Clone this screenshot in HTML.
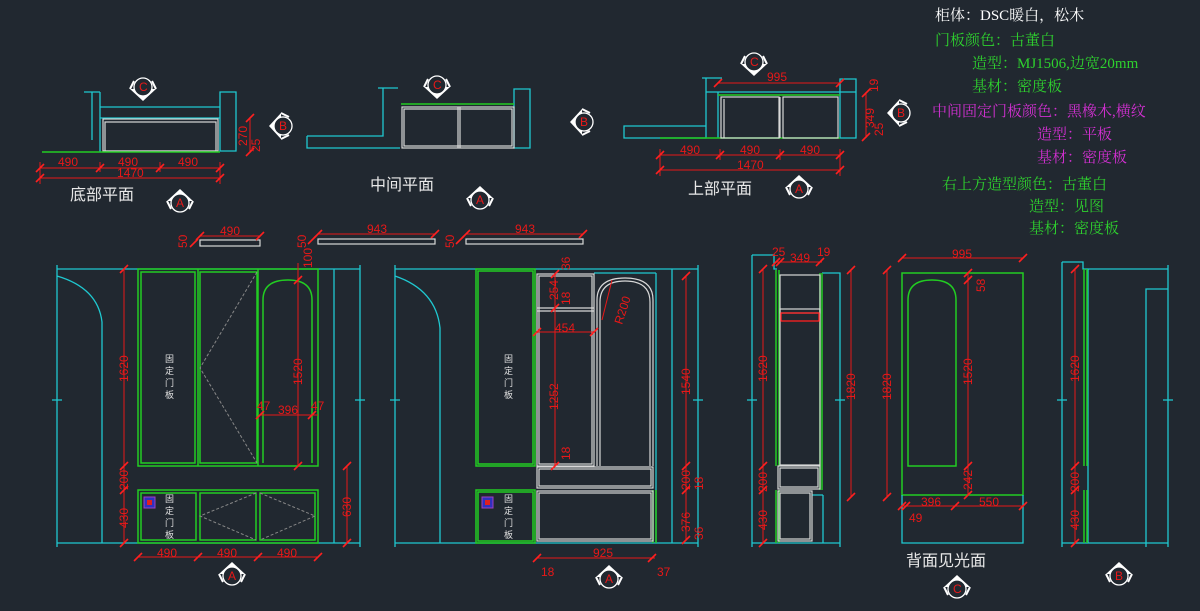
<!DOCTYPE html>
<html><head><meta charset="utf-8"><style>
html,body{margin:0;padding:0;background:#212830;}
svg{display:block}
text{font-family:"Liberation Sans","Noto Sans CJK SC",sans-serif;}
.n{font-family:"Liberation Serif","Noto Serif CJK SC",serif;font-size:15px}
.c{stroke:#1fc8d0;fill:none;stroke-width:1.3}
.g{stroke:#22cc22;fill:none;stroke-width:1.5}
.w{stroke:#d8d8d8;fill:none;stroke-width:1.2}
.r{stroke:#e81818;fill:none;stroke-width:1}
.t{stroke:#ff2020;stroke-width:1.6}
.d{stroke:#888;fill:none;stroke-width:1;stroke-dasharray:3 2}
.rt{fill:#e81818;font-size:12px}
.wt{fill:#e8e8e8;font-size:16px}
.vt{fill:#e0e0e0;font-size:9px}
</style></head><body>
<svg width="1200" height="611" viewBox="0 0 1200 611" xmlns="http://www.w3.org/2000/svg">
<defs>
<g id="mk"><path d="M-13,-2 L0,-14 L13,-2 Z" fill="#fff"/><path d="M-13,-2 L-9,6 M13,-2 L9,6" stroke="#fff" stroke-width="2"/><circle r="9" fill="#212830" stroke="#fff" stroke-width="1.3"/></g>
<path id="tk" d="M-4,4 L4,-4"/>
</defs>

<!-- ===== TOP RIGHT NOTES ===== -->
<text class="n" x="935" y="20" style="fill:#fff">柜体：DSC暖白，松木</text>
<text class="n" x="935" y="45" style="fill:#2ed02e">门板颜色：古董白</text>
<text class="n" x="972" y="68" style="fill:#2ed02e">造型：MJ1506,边宽20mm</text>
<text class="n" x="972" y="91" style="fill:#2ed02e">基材：密度板</text>
<text class="n" x="932" y="116" style="fill:#d030d0">中间固定门板颜色：黑橡木,横纹</text>
<text class="n" x="1037" y="139" style="fill:#d030d0">造型：平板</text>
<text class="n" x="1037" y="162" style="fill:#d030d0">基材：密度板</text>
<text class="n" x="942" y="189" style="fill:#2ed02e">右上方造型颜色：古董白</text>
<text class="n" x="1029" y="211" style="fill:#2ed02e">造型：见图</text>
<text class="n" x="1029" y="233" style="fill:#2ed02e">基材：密度板</text>

<!-- ===== BOTTOM PLAN ===== -->
<path class="c" d="M84,92 H100 M92,92 V140 M100,92 V152 M100,107 H220 V118 H100 M220,92 H236 V151 H220 Z"/>
<rect class="w" x="103" y="119" width="115" height="32"/>
<rect class="w" x="105" y="122" width="111" height="29"/>
<path class="g" d="M42,152 H220" stroke-width="2.5"/>
<path class="r" d="M40,168 H220 M40,178 H220 M40,162 V184 M100,162 V172 M160,162 V172 M220,162 V184"/>
<g class="t"><use href="#tk" x="40" y="168"/><use href="#tk" x="100" y="168"/><use href="#tk" x="160" y="168"/><use href="#tk" x="220" y="168"/><use href="#tk" x="40" y="178"/><use href="#tk" x="220" y="178"/></g>
<text class="rt" x="58" y="166">490</text><text class="rt" x="118" y="166">490</text><text class="rt" x="178" y="166">490</text><text class="rt" x="117" y="177">1470</text>
<path class="r" d="M250,117 V153"/><g class="t"><use href="#tk" x="250" y="118"/><use href="#tk" x="250" y="152"/></g>
<text class="rt" transform="translate(247,146) rotate(-90)">270</text><text class="rt" transform="translate(260,152) rotate(-90)">25</text>
<text class="wt" x="70" y="200">底部平面</text>
<use href="#mk" transform="translate(180,203)"/><text class="rt" x="176" y="207">A</text>
<use href="#mk" transform="translate(143,87) rotate(180)"/><text class="rt" x="139" y="91">C</text>
<use href="#mk" transform="translate(283,126) rotate(-90)"/><text class="rt" x="279" y="130">B</text>

<!-- ===== MIDDLE PLAN ===== -->
<path class="c" d="M307,136 H383 V88 M378,88 H398 M307,136 V148 H400 M514,89 H530 V148 H514 Z"/>
<path class="g" d="M401,104 H514" stroke-width="2"/>
<rect class="w" x="402" y="107" width="112" height="41"/><rect class="w" x="404" y="109" width="108" height="37"/>
<path class="w" d="M458,107 V148 M460,107 V148"/>
<text class="wt" x="370" y="190">中间平面</text>
<use href="#mk" transform="translate(480,200)"/><text class="rt" x="476" y="204">A</text>
<use href="#mk" transform="translate(437,85) rotate(180)"/><text class="rt" x="433" y="89">C</text>
<use href="#mk" transform="translate(584,122) rotate(-90)"/><text class="rt" x="580" y="126">B</text>

<!-- ===== UPPER PLAN ===== -->
<path class="c" d="M624,126 H706 V138 H624 Z M706,126 V92 M702,78 H722 M706,78 V92 H856 M718,92 V138 M840,79 H856 V138 H840 Z"/>
<path class="g" d="M718,95 H840 M660,138 H840" stroke-width="2"/>
<rect class="w" x="721" y="97" width="58" height="41"/><rect class="w" x="783" y="97" width="55" height="41"/>
<path class="w" d="M724,99 V138 M780,97 V138"/>
<path class="r" d="M718,83 H840 M660,155 H840 M660,170 H840 M660,149 V176 M720,149 V160 M780,149 V160 M840,149 V176 M866,92 V138"/>
<g class="t"><use href="#tk" x="718" y="83"/><use href="#tk" x="840" y="83"/><use href="#tk" x="660" y="155"/><use href="#tk" x="720" y="155"/><use href="#tk" x="780" y="155"/><use href="#tk" x="840" y="155"/><use href="#tk" x="660" y="170"/><use href="#tk" x="840" y="170"/><use href="#tk" x="866" y="93"/><use href="#tk" x="866" y="137"/></g>
<text class="rt" x="767" y="81">995</text>
<text class="rt" x="680" y="154">490</text><text class="rt" x="740" y="154">490</text><text class="rt" x="800" y="154">490</text><text class="rt" x="737" y="169">1470</text>
<text class="rt" transform="translate(878,92) rotate(-90)">19</text><text class="rt" transform="translate(874,128) rotate(-90)">349</text><text class="rt" transform="translate(883,136) rotate(-90)">25</text>
<text class="wt" x="688" y="194">上部平面</text>
<use href="#mk" transform="translate(799,189)"/><text class="rt" x="795" y="193">A</text>
<use href="#mk" transform="translate(754,62) rotate(180)"/><text class="rt" x="750" y="66">C</text>
<use href="#mk" transform="translate(901,113) rotate(-90)"/><text class="rt" x="897" y="117">B</text>

<!-- ===== SHELVES ===== -->
<rect class="w" x="200" y="240" width="60" height="6"/>
<rect class="w" x="318" y="239" width="117" height="5"/>
<rect class="w" x="466" y="239" width="117" height="5"/>
<path class="r" d="M200,236 H260 M318,234 H435 M466,234 H583"/>
<g class="t"><use href="#tk" x="200" y="236"/><use href="#tk" x="260" y="236"/><use href="#tk" x="318" y="234"/><use href="#tk" x="435" y="234"/><use href="#tk" x="466" y="234"/><use href="#tk" x="583" y="234"/><use href="#tk" x="194" y="243"/><use href="#tk" x="312" y="240"/><use href="#tk" x="460" y="240"/></g>
<text class="rt" x="220" y="235">490</text><text class="rt" x="367" y="233">943</text><text class="rt" x="515" y="233">943</text>
<text class="rt" transform="translate(187,248) rotate(-90)">50</text><text class="rt" transform="translate(306,248) rotate(-90)">50</text><text class="rt" transform="translate(454,248) rotate(-90)">50</text>

<!-- ===== ELEVATION 1 ===== -->
<path class="c" d="M57,265 V547 M360,265 V547 M57,269 H360 M57,543 H360 M57,276 Q98,288 102,322 V543 M334,269 V543 M52,400 H62 M355,400 H365"/>
<rect class="g" x="138" y="269" width="180" height="197"/>
<rect class="g" x="141" y="272" width="54" height="191"/><rect class="g" x="200" y="272" width="57" height="191"/>
<path class="g" d="M198,269 V466 M258,269 V466"/>
<path class="g" d="M263,463 V300 Q263,280 288,280 Q312,280 312,300 V463"/>
<rect class="g" x="138" y="490" width="180" height="53"/>
<rect class="g" x="141" y="493" width="55" height="47"/><rect class="g" x="200" y="493" width="56" height="47"/><rect class="g" x="260" y="493" width="55" height="47"/>
<path class="d" d="M257,272 L200,368 L257,463 M256,493 L200,516 L256,540 M260,493 L315,516 L260,540"/>
<text class="vt" x="165" y="362">固</text><text class="vt" x="165" y="374">定</text><text class="vt" x="165" y="386">门</text><text class="vt" x="165" y="398">板</text>
<text class="vt" x="165" y="502">固</text><text class="vt" x="165" y="514">定</text><text class="vt" x="165" y="526">门</text><text class="vt" x="165" y="538">板</text>
<rect x="144" y="497" width="11" height="11" fill="#3030c0" stroke="#a040c0"/><rect x="147" y="500" width="5" height="5" fill="#e02020"/>
<path class="r" d="M124,269 V543 M298,280 V466 M260,415 H318 M347,466 V543 M138,557 H318 M298,263 V280"/>
<g class="t"><use href="#tk" x="124" y="269"/><use href="#tk" x="124" y="466"/><use href="#tk" x="124" y="490"/><use href="#tk" x="124" y="543"/><use href="#tk" x="298" y="280"/><use href="#tk" x="298" y="466"/><use href="#tk" x="260" y="415"/><use href="#tk" x="312" y="415"/><use href="#tk" x="347" y="466"/><use href="#tk" x="347" y="543"/><use href="#tk" x="138" y="557"/><use href="#tk" x="198" y="557"/><use href="#tk" x="258" y="557"/><use href="#tk" x="318" y="557"/></g>
<text class="rt" transform="translate(128,382) rotate(-90)">1620</text><text class="rt" transform="translate(128,490) rotate(-90)">200</text><text class="rt" transform="translate(128,528) rotate(-90)">430</text>
<text class="rt" transform="translate(302,385) rotate(-90)">1520</text><text class="rt" transform="translate(351,517) rotate(-90)">630</text>
<text class="rt" transform="translate(312,268) rotate(-90)">100</text>
<text class="rt" x="257" y="410">47</text><text class="rt" x="278" y="414">396</text><text class="rt" x="311" y="410">47</text>
<text class="rt" x="157" y="557">490</text><text class="rt" x="217" y="557">490</text><text class="rt" x="277" y="557">490</text>
<use href="#mk" transform="translate(232,576)"/><text class="rt" x="228" y="580">A</text>

<!-- ===== ELEVATION 2 ===== -->
<path class="c" d="M395,265 V547 M698,265 V547 M395,269 H698 M395,543 H698 M395,276 Q436,290 440,328 V543 M656,273 V543 M594,273 H656 M672,269 V543 M390,400 H400 M693,400 H703"/>
<rect class="g" x="476" y="269" width="59" height="197"/><rect class="g" x="478" y="271" width="55" height="193"/>
<rect class="g" x="476" y="490" width="59" height="53"/><rect class="g" x="478" y="492" width="55" height="49"/>
<path class="g" d="M653,490 V543 M656,490 V543"/>
<text class="vt" x="504" y="362">固</text><text class="vt" x="504" y="374">定</text><text class="vt" x="504" y="386">门</text><text class="vt" x="504" y="398">板</text>
<text class="vt" x="504" y="502">固</text><text class="vt" x="504" y="514">定</text><text class="vt" x="504" y="526">门</text><text class="vt" x="504" y="538">板</text>
<rect x="482" y="497" width="11" height="11" fill="#3030c0" stroke="#a040c0"/><rect x="485" y="500" width="5" height="5" fill="#e02020"/>
<rect class="w" x="537" y="274" width="57" height="192"/><rect class="w" x="539" y="276" width="53" height="188"/>
<path class="w" d="M537,308 H594 M537,311 H594"/>
<path class="w" d="M597,466 V300 Q597,278 625,278 Q653,278 653,300 V466 M600,466 V302 Q600,281 625,281 Q650,281 650,302 V466"/>
<rect class="w" x="537" y="467" width="116" height="21"/><rect class="w" x="539" y="469" width="112" height="17"/>
<rect class="w" x="537" y="491" width="116" height="50"/><rect class="w" x="539" y="493" width="112" height="46"/>
<path class="r" d="M555,274 V466 M537,332 H594 M686,276 V540 M537,558 H655 M612,280 L602,320"/>
<g class="t"><use href="#tk" x="555" y="274"/><use href="#tk" x="555" y="308"/><use href="#tk" x="555" y="466"/><use href="#tk" x="537" y="332"/><use href="#tk" x="594" y="332"/><use href="#tk" x="686" y="276"/><use href="#tk" x="686" y="466"/><use href="#tk" x="686" y="490"/><use href="#tk" x="686" y="540"/><use href="#tk" x="537" y="558"/><use href="#tk" x="652" y="558"/></g>
<text class="rt" transform="translate(558,300) rotate(-90)">254</text><text class="rt" transform="translate(558,410) rotate(-90)">1252</text>
<text class="rt" x="555" y="332">454</text><text class="rt" transform="translate(622,325) rotate(-72)">R200</text>
<text class="rt" transform="translate(690,395) rotate(-90)">1540</text><text class="rt" transform="translate(690,490) rotate(-90)">200</text><text class="rt" transform="translate(690,532) rotate(-90)">376</text>
<text class="rt" transform="translate(570,270) rotate(-90)">36</text><text class="rt" transform="translate(570,305) rotate(-90)">18</text><text class="rt" transform="translate(570,460) rotate(-90)">18</text><text class="rt" transform="translate(703,490) rotate(-90)">18</text><text class="rt" transform="translate(703,540) rotate(-90)">36</text>
<text class="rt" x="593" y="557">925</text><text class="rt" x="541" y="576">18</text><text class="rt" x="657" y="576">37</text>
<use href="#mk" transform="translate(609,579)"/><text class="rt" x="605" y="583">A</text>

<!-- ===== ELEVATION 3 (side) ===== -->
<path class="c" d="M752,255 V547 M752,255 H774 V269 H777 M752,543 H823 M822,273 H840 V547 M823,495 V543 H840 M812,495 H823 M747,400 H757 M835,400 H845"/>
<path class="g" d="M776,270 V466 M779,270 V466 M776,490 V543 M779,490 V543 M820,273 V490 M822,273 V490" stroke-width="1.4"/>
<rect class="w" x="780" y="275" width="40" height="190"/>
<rect class="w" x="780" y="309" width="40" height="4"/>
<rect x="781" y="313" width="38" height="8" fill="none" stroke="#ff2020" stroke-width="1.3"/>
<rect class="w" x="778" y="466" width="42" height="23"/><rect class="w" x="780" y="468" width="38" height="19"/>
<rect class="w" x="778" y="491" width="34" height="50"/><rect class="w" x="780" y="493" width="30" height="46"/>
<path class="r" d="M763,269 V543 M851,270 V497 M775,262 H822"/>
<g class="t"><use href="#tk" x="763" y="269"/><use href="#tk" x="763" y="466"/><use href="#tk" x="763" y="490"/><use href="#tk" x="763" y="543"/><use href="#tk" x="851" y="270"/><use href="#tk" x="851" y="497"/><use href="#tk" x="776" y="262"/><use href="#tk" x="780" y="262"/><use href="#tk" x="820" y="262"/></g>
<text class="rt" transform="translate(767,382) rotate(-90)">1620</text><text class="rt" transform="translate(767,492) rotate(-90)">200</text><text class="rt" transform="translate(767,530) rotate(-90)">430</text>
<text class="rt" transform="translate(855,400) rotate(-90)">1820</text>
<text class="rt" x="772" y="256">25</text><text class="rt" x="790" y="262">349</text><text class="rt" x="817" y="256">19</text>

<!-- ===== BACK PANEL ===== -->
<rect class="g" x="902" y="273" width="121" height="222"/>
<path class="g" d="M908,466 V300 Q908,280 932,280 Q956,280 956,300 V466 Z"/>
<path class="c" d="M902,495 V543 H1023 V495"/>
<path class="r" d="M902,258 H1023 M887,270 V497 M968,273 V495 M902,506 H1023"/>
<g class="t"><use href="#tk" x="902" y="258"/><use href="#tk" x="1023" y="258"/><use href="#tk" x="887" y="270"/><use href="#tk" x="887" y="497"/><use href="#tk" x="968" y="273"/><use href="#tk" x="968" y="280"/><use href="#tk" x="968" y="466"/><use href="#tk" x="968" y="495"/><use href="#tk" x="902" y="506"/><use href="#tk" x="906" y="506"/><use href="#tk" x="955" y="506"/><use href="#tk" x="1023" y="506"/></g>
<text class="rt" x="952" y="258">995</text>
<text class="rt" transform="translate(891,400) rotate(-90)">1820</text><text class="rt" transform="translate(972,385) rotate(-90)">1520</text>
<text class="rt" transform="translate(985,292) rotate(-90)">58</text><text class="rt" transform="translate(972,490) rotate(-90)">242</text>
<text class="rt" x="921" y="506">396</text><text class="rt" x="979" y="506">550</text><text class="rt" x="909" y="522">49</text>
<text class="wt" x="906" y="566">背面见光面</text>
<use href="#mk" transform="translate(957,589)"/><text class="rt" x="953" y="593">C</text>

<!-- ===== RIGHT ELEVATION ===== -->
<path class="c" d="M1062,262 V547 M1062,262 H1083 V269 H1168 M1168,265 V547 M1146,547 V289 H1168 M1088,269 V543 M1062,543 H1168 M1057,400 H1067 M1163,400 H1173"/>
<path class="g" d="M1084,269 V466 M1087,269 V466 M1084,490 V543 M1087,490 V543" stroke-width="1.4"/>
<path class="r" d="M1075,269 V543"/>
<g class="t"><use href="#tk" x="1075" y="269"/><use href="#tk" x="1075" y="466"/><use href="#tk" x="1075" y="490"/><use href="#tk" x="1075" y="543"/></g>
<text class="rt" transform="translate(1079,382) rotate(-90)">1620</text><text class="rt" transform="translate(1079,492) rotate(-90)">200</text><text class="rt" transform="translate(1079,530) rotate(-90)">430</text>
<use href="#mk" transform="translate(1119,576)"/><text class="rt" x="1115" y="580">B</text>
</svg>
</body></html>
